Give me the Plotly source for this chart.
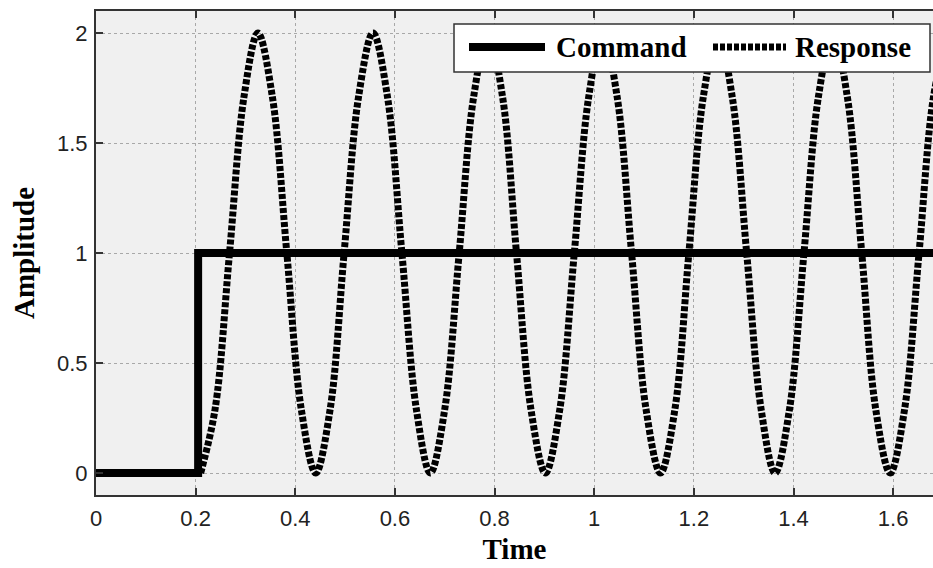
import plotly.graph_objects as go

# ---- data ----
command_t = [0.0, 0.205, 0.205, 1.70]
command_y = [0.0, 0.0, 1.0, 1.0]

response_t = [0.210, 0.239, 0.268, 0.297, 0.325, 0.354, 0.383, 0.412,
              0.441, 0.470, 0.498, 0.527, 0.556, 0.585, 0.614, 0.643,
              0.671, 0.700, 0.729, 0.758, 0.787, 0.816, 0.844, 0.873,
              0.902, 0.931, 0.960, 0.989, 1.017, 1.046, 1.075, 1.104,
              1.133, 1.162, 1.190, 1.219, 1.248, 1.277, 1.306, 1.335,
              1.363, 1.392, 1.421, 1.450, 1.479, 1.508, 1.537, 1.565,
              1.594, 1.623, 1.652, 1.681, 1.710]
response_y = [0.00, 0.29, 1.00, 1.71, 2.00, 1.71, 1.00, 0.29,
              0.00, 0.29, 1.00, 1.71, 2.00, 1.71, 1.00, 0.29,
              0.00, 0.29, 1.00, 1.71, 2.00, 1.71, 1.00, 0.29,
              0.00, 0.29, 1.00, 1.71, 2.00, 1.71, 1.00, 0.29,
              0.00, 0.29, 1.00, 1.71, 2.00, 1.71, 1.00, 0.29,
              0.00, 0.29, 1.00, 1.71, 2.00, 1.71, 1.00, 0.29,
              0.00, 0.29, 1.00, 1.71, 2.00]

x_ticks = [0, 0.2, 0.4, 0.6, 0.8, 1.0, 1.2, 1.4, 1.6]
x_tick_text = ["0", "0.2", "0.4", "0.6", "0.8", "1", "1.2", "1.4", "1.6"]
y_ticks = [0, 0.5, 1.0, 1.5, 2.0]
y_tick_text = ["0", "0.5", "1", "1.5", "2"]

series_names = ["Command", "Response"]

W, H = 933, 568
ML, MR, MT, MB = 96, 0, 11, 73
PW, PH = W - ML - MR, H - MT - MB

RESP_DASH = "5px,2px"

fig = go.Figure()
fig.add_trace(go.Scatter(x=command_t, y=command_y, mode="lines", name=series_names[0],
                         line=dict(color="black", width=8), showlegend=False))
fig.add_trace(go.Scatter(x=response_t, y=response_y, mode="lines", name=series_names[1],
                         line=dict(color="black", width=7, dash=RESP_DASH, shape="spline",
                                   smoothing=1.0), showlegend=False))


def px_x(p):
    return (p - ML) / PW


def px_y(p):
    return (H - MB - p) / PH


# legend box drawn to match the reference layout
shapes = [
    dict(type="rect", xref="paper", yref="paper", x0=px_x(454), x1=px_x(930),
         y0=px_y(72), y1=px_y(24), fillcolor="white", line=dict(color="#333333", width=1.5),
         layer="above"),
    dict(type="line", xref="paper", yref="paper", x0=px_x(469), x1=px_x(545),
         y0=px_y(47), y1=px_y(47), line=dict(color="black", width=8), layer="above"),
    dict(type="line", xref="paper", yref="paper", x0=px_x(713), x1=px_x(786),
         y0=px_y(47), y1=px_y(47), line=dict(color="black", width=7, dash=RESP_DASH),
         layer="above"),
]
leg_font = dict(family="Liberation Serif", size=29, color="black", weight="bold")
annotations = [
    dict(xref="paper", yref="paper", x=px_x(554), y=px_y(47), text=series_names[0],
         showarrow=False, xanchor="left", yanchor="middle", font=leg_font),
    dict(xref="paper", yref="paper", x=px_x(793), y=px_y(47), text=series_names[1],
         showarrow=False, xanchor="left", yanchor="middle", font=leg_font),
]

axis_common = dict(
    showline=True, linecolor="#333333", linewidth=2,
    ticks="inside", ticklen=7, tickwidth=1.5, tickcolor="#333333",
    showgrid=True, gridcolor="#a8a8a8", griddash="dot", gridwidth=1,
    zeroline=False,
    tickfont=dict(family="Liberation Sans", size=22, color="#222222"),
)

fig.update_layout(
    width=W, height=H,
    margin=dict(l=ML, r=MR, t=MT, b=MB, pad=0),
    paper_bgcolor="white", plot_bgcolor="#f0f0f0",
    showlegend=False,
    shapes=shapes, annotations=annotations,
    xaxis=dict(range=[0, 1.68], tickvals=x_ticks, ticktext=x_tick_text, mirror="ticks",
               title=dict(text="Time", font=dict(family="Liberation Serif", size=29,
                                                 color="black", weight="bold"), standoff=8),
               ticklabelstandoff=3,
               **axis_common),
    yaxis=dict(range=[-0.1, 2.1], tickvals=y_ticks, ticktext=y_tick_text, mirror=False,
               title=dict(text="Amplitude", font=dict(family="Liberation Serif", size=29,
                                                      color="black", weight="bold"), standoff=14),
               ticklabelstandoff=2,
               **axis_common),
)

fig.write_html("out.html")
